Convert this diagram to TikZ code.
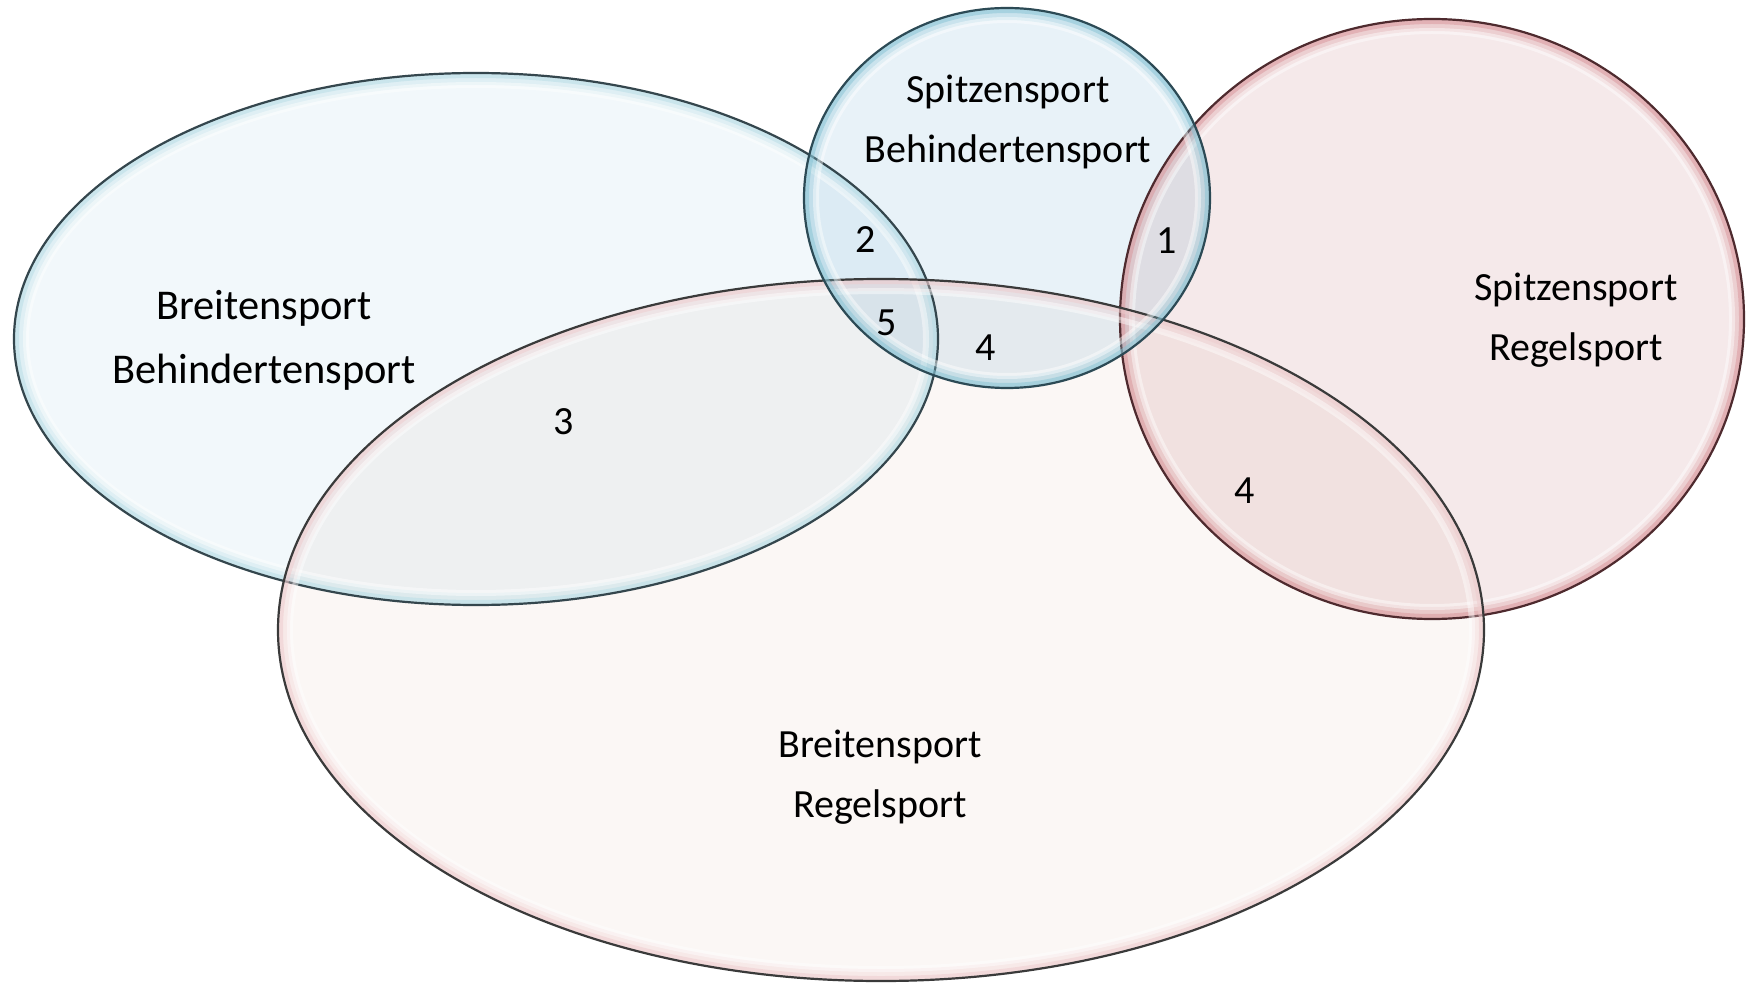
\documentclass[tikz,border=0pt]{standalone}
\usepackage{fontspec}
\setmainfont{Carlito}
\definecolor{bfill}{HTML}{F2F8FB}
\definecolor{tfill}{HTML}{E8F2F8}
\definecolor{rfill}{HTML}{F5E9EA}
\definecolor{pfill}{HTML}{FBF7F5}
\definecolor{brim}{HTML}{B6DDE6}
\definecolor{trim}{HTML}{86C3D4}
\definecolor{rrim}{HTML}{D9959A}
\definecolor{prim}{HTML}{EECBCD}
\definecolor{bline}{HTML}{34464D}
\definecolor{tline}{HTML}{2C4A55}
\definecolor{rline}{HTML}{4E2A2E}
\definecolor{pline}{HTML}{3A3A3A}
\newcommand\myrim[6]{%
  \begin{scope}
    \clip (#1) ellipse [x radius=#2, y radius=#3];
    \draw[line width=12pt, #4, opacity=0.3] (#1) ellipse [x radius=#2, y radius=#3];
    \draw[line width=5pt, #4, opacity=0.5] (#1) ellipse [x radius=#2, y radius=#3];
    \draw[line width=3pt, white, opacity=0.45] (#1) ellipse [x radius=#2-12, y radius=#3-12];
  \end{scope}
  \draw[line width=1.1pt, #5] (#1) ellipse [x radius=#2, y radius=#3];
}
\begin{document}
\begin{tikzpicture}[x=0.5pt,y=-0.5pt,
  lbl/.style={font=\fontsize{20}{30}\selectfont, align=center, inner sep=0pt, text=black},
  biglbl/.style={lbl, font=\fontsize{21.2}{32}\selectfont}]
\useasboundingbox[fill=white] (0,0) rectangle (1756,984);
\coordinate (cB) at (476,339);
\coordinate (cT) at (1007,198);
\coordinate (cR) at (1432,319);
\coordinate (cP) at (881,630);
% fills
\begin{scope}[blend mode=multiply]
\fill[bfill] (cB) ellipse [x radius=462, y radius=266];
\fill[rfill] (cR) ellipse [x radius=312, y radius=300];
\fill[pfill] (cP) ellipse [x radius=603, y radius=351];
\fill[tfill] (cT) ellipse [x radius=203, y radius=190];
\end{scope}
% rims and outlines
\myrim{cB}{462}{266}{brim}{bline}{}
\myrim{cR}{312}{300}{rrim}{rline}{}
\myrim{cP}{603}{351}{prim}{pline}{}
\myrim{cT}{203}{190}{trim}{tline}{}
% labels
\node[lbl] (tTop) at (1008,122) {Spitzensport\\Behindertensport};
\node[biglbl] (tLeft) at (264,340) {Breitensport\\Behindertensport};
\node[lbl] (tRight) at (1576,320) {Spitzensport\\Regelsport};
\node[lbl] (tBot) at (880,777) {Breitensport\\Regelsport};
\node[lbl] (n2) at (866,240) {2};
\node[lbl] (n1) at (1167,241) {1};
\node[lbl] (n5) at (887,323) {5};
\node[lbl] (n4a) at (986,348) {4};
\node[lbl] (n3) at (564,422) {3};
\node[lbl] (n4b) at (1245,491) {4};
\end{tikzpicture}
\end{document}
